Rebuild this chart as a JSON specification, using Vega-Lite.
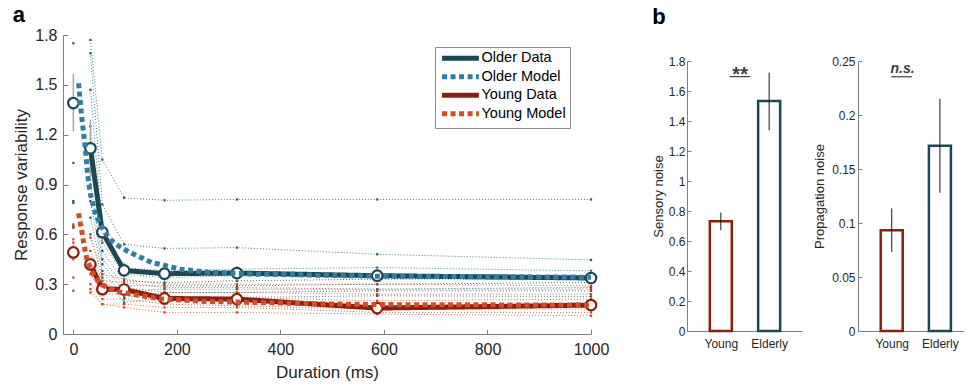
{
  "$schema": "https://vega.github.io/schema/vega-lite/v6.json",
  "padding": {"left": 12, "top": 4, "right": 0, "bottom": 0},
  "background": "white",
  "spacing": 43,
  "config": {
    "font": "Liberation Sans",
    "view": {"stroke": null},
    "axis": {"grid": false, "domainColor": "#808080", "tickColor": "#808080", "labelColor": "#262626", "titleColor": "#262626", "titleFontWeight": "normal", "labelFlush": false, "labelOverlap": false},
    "legend": {"title": null, "orient": "none", "legendX": 372, "legendY": 12, "symbolType": "M-1,0H7.8", "symbolStrokeWidth": 5, "symbolSize": 70, "labelFontSize": 14.5, "labelColor": "black", "strokeColor": "#8c8c8c", "fillColor": "white", "padding": 4, "rowPadding": -2.5, "labelOffset": 28}
  },
  "datasets": {
    "indiv": [
      {"grp":"Older","subj":"O1","dur":0,"v":1.75},{"grp":"Older","subj":"O1","dur":33,"v":1.77},{"grp":"Older","subj":"O1","dur":56,"v":1.05},{"grp":"Older","subj":"O1","dur":98,"v":0.82},{"grp":"Older","subj":"O1","dur":176,"v":0.805},{"grp":"Older","subj":"O1","dur":316,"v":0.81},{"grp":"Older","subj":"O1","dur":587,"v":0.81},{"grp":"Older","subj":"O1","dur":1000,"v":0.81},
      {"grp":"Older","subj":"O2","dur":0,"v":1.03},{"grp":"Older","subj":"O2","dur":33,"v":1.69},{"grp":"Older","subj":"O2","dur":56,"v":0.78},{"grp":"Older","subj":"O2","dur":98,"v":0.54},{"grp":"Older","subj":"O2","dur":176,"v":0.515},{"grp":"Older","subj":"O2","dur":316,"v":0.52},{"grp":"Older","subj":"O2","dur":587,"v":0.48},{"grp":"Older","subj":"O2","dur":1000,"v":0.446},
      {"grp":"Older","subj":"O3","dur":0,"v":0.79},{"grp":"Older","subj":"O3","dur":33,"v":1.47},{"grp":"Older","subj":"O3","dur":56,"v":0.62},{"grp":"Older","subj":"O3","dur":98,"v":0.40},{"grp":"Older","subj":"O3","dur":176,"v":0.38},{"grp":"Older","subj":"O3","dur":316,"v":0.39},{"grp":"Older","subj":"O3","dur":587,"v":0.40},{"grp":"Older","subj":"O3","dur":1000,"v":0.38},
      {"grp":"Older","subj":"O4","dur":0,"v":0.80},{"grp":"Older","subj":"O4","dur":33,"v":1.25},{"grp":"Older","subj":"O4","dur":56,"v":0.55},{"grp":"Older","subj":"O4","dur":98,"v":0.36},{"grp":"Older","subj":"O4","dur":176,"v":0.34},{"grp":"Older","subj":"O4","dur":316,"v":0.35},{"grp":"Older","subj":"O4","dur":587,"v":0.36},{"grp":"Older","subj":"O4","dur":1000,"v":0.35},
      {"grp":"Older","subj":"O5","dur":0,"v":0.65},{"grp":"Older","subj":"O5","dur":33,"v":1.05},{"grp":"Older","subj":"O5","dur":56,"v":0.50},{"grp":"Older","subj":"O5","dur":98,"v":0.32},{"grp":"Older","subj":"O5","dur":176,"v":0.31},{"grp":"Older","subj":"O5","dur":316,"v":0.32},{"grp":"Older","subj":"O5","dur":587,"v":0.33},{"grp":"Older","subj":"O5","dur":1000,"v":0.33},
      {"grp":"Older","subj":"O6","dur":0,"v":0.64},{"grp":"Older","subj":"O6","dur":33,"v":0.90},{"grp":"Older","subj":"O6","dur":56,"v":0.45},{"grp":"Older","subj":"O6","dur":98,"v":0.29},{"grp":"Older","subj":"O6","dur":176,"v":0.29},{"grp":"Older","subj":"O6","dur":316,"v":0.29},{"grp":"Older","subj":"O6","dur":587,"v":0.30},{"grp":"Older","subj":"O6","dur":1000,"v":0.31},
      {"grp":"Older","subj":"O7","dur":33,"v":0.80},{"grp":"Older","subj":"O7","dur":56,"v":0.42},{"grp":"Older","subj":"O7","dur":98,"v":0.26},{"grp":"Older","subj":"O7","dur":176,"v":0.27},{"grp":"Older","subj":"O7","dur":316,"v":0.27},{"grp":"Older","subj":"O7","dur":587,"v":0.27},{"grp":"Older","subj":"O7","dur":1000,"v":0.28},
      {"grp":"Older","subj":"O8","dur":33,"v":0.70},{"grp":"Older","subj":"O8","dur":56,"v":0.38},{"grp":"Older","subj":"O8","dur":98,"v":0.22},{"grp":"Older","subj":"O8","dur":176,"v":0.25},{"grp":"Older","subj":"O8","dur":316,"v":0.25},{"grp":"Older","subj":"O8","dur":587,"v":0.26},{"grp":"Older","subj":"O8","dur":1000,"v":0.26},
      {"grp":"Older","subj":"O9","dur":33,"v":0.60},{"grp":"Older","subj":"O9","dur":56,"v":0.34},{"grp":"Older","subj":"O9","dur":98,"v":0.19},{"grp":"Older","subj":"O9","dur":176,"v":0.22},{"grp":"Older","subj":"O9","dur":316,"v":0.22},{"grp":"Older","subj":"O9","dur":587,"v":0.23},{"grp":"Older","subj":"O9","dur":1000,"v":0.226},
      {"grp":"Young","subj":"Y1","dur":0,"v":0.66},{"grp":"Young","subj":"Y1","dur":33,"v":0.58},{"grp":"Young","subj":"Y1","dur":56,"v":0.36},{"grp":"Young","subj":"Y1","dur":98,"v":0.33},{"grp":"Young","subj":"Y1","dur":176,"v":0.30},{"grp":"Young","subj":"Y1","dur":316,"v":0.30},{"grp":"Young","subj":"Y1","dur":587,"v":0.30},{"grp":"Young","subj":"Y1","dur":1000,"v":0.29},
      {"grp":"Young","subj":"Y2","dur":0,"v":0.645},{"grp":"Young","subj":"Y2","dur":33,"v":0.50},{"grp":"Young","subj":"Y2","dur":56,"v":0.32},{"grp":"Young","subj":"Y2","dur":98,"v":0.31},{"grp":"Young","subj":"Y2","dur":176,"v":0.28},{"grp":"Young","subj":"Y2","dur":316,"v":0.28},{"grp":"Young","subj":"Y2","dur":587,"v":0.27},{"grp":"Young","subj":"Y2","dur":1000,"v":0.27},
      {"grp":"Young","subj":"Y3","dur":0,"v":0.57},{"grp":"Young","subj":"Y3","dur":33,"v":0.45},{"grp":"Young","subj":"Y3","dur":56,"v":0.29},{"grp":"Young","subj":"Y3","dur":98,"v":0.28},{"grp":"Young","subj":"Y3","dur":176,"v":0.25},{"grp":"Young","subj":"Y3","dur":316,"v":0.25},{"grp":"Young","subj":"Y3","dur":587,"v":0.24},{"grp":"Young","subj":"Y3","dur":1000,"v":0.24},
      {"grp":"Young","subj":"Y4","dur":0,"v":0.55},{"grp":"Young","subj":"Y4","dur":33,"v":0.40},{"grp":"Young","subj":"Y4","dur":56,"v":0.26},{"grp":"Young","subj":"Y4","dur":98,"v":0.26},{"grp":"Young","subj":"Y4","dur":176,"v":0.23},{"grp":"Young","subj":"Y4","dur":316,"v":0.22},{"grp":"Young","subj":"Y4","dur":587,"v":0.20},{"grp":"Young","subj":"Y4","dur":1000,"v":0.21},
      {"grp":"Young","subj":"Y5","dur":0,"v":0.34},{"grp":"Young","subj":"Y5","dur":33,"v":0.36},{"grp":"Young","subj":"Y5","dur":56,"v":0.24},{"grp":"Young","subj":"Y5","dur":98,"v":0.24},{"grp":"Young","subj":"Y5","dur":176,"v":0.20},{"grp":"Young","subj":"Y5","dur":316,"v":0.20},{"grp":"Young","subj":"Y5","dur":587,"v":0.17},{"grp":"Young","subj":"Y5","dur":1000,"v":0.18},
      {"grp":"Young","subj":"Y6","dur":0,"v":0.26},{"grp":"Young","subj":"Y6","dur":33,"v":0.30},{"grp":"Young","subj":"Y6","dur":56,"v":0.21},{"grp":"Young","subj":"Y6","dur":98,"v":0.21},{"grp":"Young","subj":"Y6","dur":176,"v":0.18},{"grp":"Young","subj":"Y6","dur":316,"v":0.17},{"grp":"Young","subj":"Y6","dur":587,"v":0.15},{"grp":"Young","subj":"Y6","dur":1000,"v":0.15},
      {"grp":"Young","subj":"Y7","dur":0,"v":0.45},{"grp":"Young","subj":"Y7","dur":33,"v":0.27},{"grp":"Young","subj":"Y7","dur":56,"v":0.18},{"grp":"Young","subj":"Y7","dur":98,"v":0.18},{"grp":"Young","subj":"Y7","dur":176,"v":0.16},{"grp":"Young","subj":"Y7","dur":316,"v":0.16},{"grp":"Young","subj":"Y7","dur":587,"v":0.13},{"grp":"Young","subj":"Y7","dur":1000,"v":0.13},
      {"grp":"Young","subj":"Y8","dur":0,"v":0.50},{"grp":"Young","subj":"Y8","dur":33,"v":0.25},{"grp":"Young","subj":"Y8","dur":56,"v":0.18},{"grp":"Young","subj":"Y8","dur":98,"v":0.16},{"grp":"Young","subj":"Y8","dur":176,"v":0.13},{"grp":"Young","subj":"Y8","dur":316,"v":0.13},{"grp":"Young","subj":"Y8","dur":587,"v":0.12},{"grp":"Young","subj":"Y8","dur":1000,"v":0.11}
    ],
    "mean": [
      {"grp":"Older","series":"Older Data","dur":0,"v":1.39,"lo":1.22,"hi":1.565},
      {"grp":"Older","series":"Older Data","dur":33,"v":1.118,"lo":0.95,"hi":1.29},
      {"grp":"Older","series":"Older Data","dur":56,"v":0.613,"lo":0.55,"hi":0.68},
      {"grp":"Older","series":"Older Data","dur":98,"v":0.383,"lo":0.34,"hi":0.43},
      {"grp":"Older","series":"Older Data","dur":176,"v":0.363,"lo":0.32,"hi":0.41},
      {"grp":"Older","series":"Older Data","dur":316,"v":0.367,"lo":0.32,"hi":0.41},
      {"grp":"Older","series":"Older Data","dur":587,"v":0.351,"lo":0.31,"hi":0.40},
      {"grp":"Older","series":"Older Data","dur":1000,"v":0.337,"lo":0.30,"hi":0.38},
      {"grp":"Young","series":"Young Data","dur":0,"v":0.491,"lo":0.45,"hi":0.54},
      {"grp":"Young","series":"Young Data","dur":33,"v":0.419,"lo":0.39,"hi":0.45},
      {"grp":"Young","series":"Young Data","dur":56,"v":0.27,"lo":0.24,"hi":0.30},
      {"grp":"Young","series":"Young Data","dur":98,"v":0.268,"lo":0.24,"hi":0.30},
      {"grp":"Young","series":"Young Data","dur":176,"v":0.214,"lo":0.19,"hi":0.24},
      {"grp":"Young","series":"Young Data","dur":316,"v":0.21,"lo":0.18,"hi":0.24},
      {"grp":"Young","series":"Young Data","dur":587,"v":0.156,"lo":0.13,"hi":0.18},
      {"grp":"Young","series":"Young Data","dur":1000,"v":0.174,"lo":0.15,"hi":0.20}
    ],
    "model": [
      {"series":"Older Model","dur":10,"v":1.51},{"series":"Older Model","dur":15,"v":1.34},{"series":"Older Model","dur":19,"v":1.23},{"series":"Older Model","dur":23,"v":1.12},{"series":"Older Model","dur":28,"v":0.95},{"series":"Older Model","dur":33,"v":0.84},{"series":"Older Model","dur":38,"v":0.78},{"series":"Older Model","dur":43,"v":0.72},{"series":"Older Model","dur":52,"v":0.66},{"series":"Older Model","dur":61,"v":0.61},{"series":"Older Model","dur":72,"v":0.567},{"series":"Older Model","dur":84,"v":0.537},{"series":"Older Model","dur":100,"v":0.507},{"series":"Older Model","dur":119,"v":0.477},{"series":"Older Model","dur":133,"v":0.457},{"series":"Older Model","dur":151,"v":0.43},{"series":"Older Model","dur":171,"v":0.417},{"series":"Older Model","dur":206,"v":0.39},{"series":"Older Model","dur":258,"v":0.373},{"series":"Older Model","dur":341,"v":0.361},{"series":"Older Model","dur":587,"v":0.348},{"series":"Older Model","dur":1000,"v":0.342},
      {"series":"Young Model","dur":10,"v":0.727},{"series":"Young Model","dur":13.5,"v":0.667},{"series":"Young Model","dur":17,"v":0.607},{"series":"Young Model","dur":20,"v":0.547},{"series":"Young Model","dur":23,"v":0.497},{"series":"Young Model","dur":26.5,"v":0.447},{"series":"Young Model","dur":33,"v":0.397},{"series":"Young Model","dur":39,"v":0.357},{"series":"Young Model","dur":46,"v":0.327},{"series":"Young Model","dur":55,"v":0.296},{"series":"Young Model","dur":68,"v":0.277},{"series":"Young Model","dur":84,"v":0.256},{"series":"Young Model","dur":104,"v":0.245},{"series":"Young Model","dur":126,"v":0.233},{"series":"Young Model","dur":173,"v":0.21},{"series":"Young Model","dur":258,"v":0.196},{"series":"Young Model","dur":341,"v":0.19},{"series":"Young Model","dur":470,"v":0.182},{"series":"Young Model","dur":600,"v":0.177},{"series":"Young Model","dur":1000,"v":0.174}
    ],
    "sensory": [
      {"grp":"Young","pos":1,"v":0.732,"lo":0.672,"hi":0.79},
      {"grp":"Elderly","pos":2,"v":1.533,"lo":1.338,"hi":1.722}
    ],
    "propagation": [
      {"grp":"Young","pos":1,"v":0.0933,"lo":0.0733,"hi":0.1135},
      {"grp":"Elderly","pos":2,"v":0.1715,"lo":0.128,"hi":0.215}
    ],
    "sig1": [{"x":1.186,"x2":1.613,"y":1.696,"ty":1.667,"tx":1.40,"t":"**"}],
    "sig2": [{"x":0.991,"x2":1.42,"y":0.2354,"ty":0.2392,"tx":1.225,"t":"n.s."}],
    "blank": [{"k":1}]
  },
  "hconcat": [
    {
      "title": {"text": "a", "anchor": "start", "fontSize": 22, "fontWeight": "bold", "color": "black", "offset": 0},
      "width": 528,
      "height": 299,
      "encoding": {
        "x": {"field": "dur", "type": "quantitative", "scale": {"domain": [-20, 1000], "nice": false, "zero": false},
          "axis": {"title": "Duration (ms)", "values": [0, 200, 400, 600, 800, 1000], "format": "d", "labelFontSize": 16, "titleFontSize": 17, "tickSize": -5, "labelPadding": 12.5, "titlePadding": 7}},
        "y": {"field": "v", "type": "quantitative", "scale": {"domain": [0, 1.8], "nice": false},
          "axis": {"title": "Response variability", "values": [0, 0.3, 0.6, 0.9, 1.2, 1.5, 1.8], "format": ".1~f", "labelFontSize": 16, "titleFontSize": 17, "tickSize": -5, "labelPadding": 11, "titlePadding": 4}}
      },
      "layer": [
        {"data": {"name": "indiv"}, "transform": [{"filter": "datum.grp == 'Older' && datum.dur > 0"}],
          "mark": {"type": "line", "strokeWidth": 1, "strokeDash": [1, 2], "color": "#3d7f8e"},
          "encoding": {"detail": {"field": "subj"}}},
        {"data": {"name": "indiv"}, "transform": [{"filter": "datum.grp == 'Young' && datum.dur > 0"}],
          "mark": {"type": "line", "strokeWidth": 1, "strokeDash": [1, 2], "color": "#e27350"},
          "encoding": {"detail": {"field": "subj"}}},
        {"data": {"name": "indiv"}, "transform": [{"filter": "datum.grp == 'Older'"}],
          "mark": {"type": "point", "shape": "square", "size": 5, "filled": true, "color": "#1f5a68", "opacity": 1}},
        {"data": {"name": "indiv"}, "transform": [{"filter": "datum.grp == 'Young'"}],
          "mark": {"type": "point", "shape": "square", "size": 5, "filled": true, "color": "#c94222", "opacity": 1}},
        {"data": {"name": "mean"},
          "mark": {"type": "rule", "color": "#a6a6a6", "strokeWidth": 1.5},
          "encoding": {"y": {"field": "lo", "type": "quantitative"}, "y2": {"field": "hi"}}},
        {"data": {"name": "mean"}, "transform": [{"filter": "datum.dur > 0"}],
          "mark": {"type": "line", "strokeWidth": 5},
          "encoding": {
            "color": {"field": "series", "type": "nominal", "title": null, "scale": {"domain": ["Older Data", "Older Model", "Young Data", "Young Model"], "range": ["#1d4753", "#2e7fa3", "#8c1f10", "#d64c24"]}},
            "strokeDash": {"field": "series", "type": "nominal", "title": null, "scale": {"domain": ["Older Data", "Older Model", "Young Data", "Young Model"], "range": [[1, 0], [5, 3.5], [1, 0], [5, 3.5]]}}
          }},
        {"data": {"name": "mean"},
          "mark": {"type": "point", "shape": "circle", "size": 110, "strokeWidth": 2.2, "filled": true, "fill": "white", "opacity": 1},
          "encoding": {"stroke": {"field": "grp", "type": "nominal", "scale": {"domain": ["Older", "Young"], "range": ["#1d4753", "#8c1f10"]}, "legend": null}}},
        {"data": {"name": "model"},
          "mark": {"type": "line", "strokeWidth": 5, "strokeCap": "butt"},
          "encoding": {
            "color": {"field": "series", "type": "nominal", "title": null, "scale": {"domain": ["Older Data", "Older Model", "Young Data", "Young Model"], "range": ["#1d4753", "#2e7fa3", "#8c1f10", "#d64c24"]}},
            "strokeDash": {"field": "series", "type": "nominal", "title": null, "scale": {"domain": ["Older Data", "Older Model", "Young Data", "Young Model"], "range": [[1, 0], [5, 3.5], [1, 0], [5, 3.5]]}}
          }}
      ]
    },
    {
      "title": {"text": "b", "anchor": "start", "fontSize": 22, "fontWeight": "bold", "color": "black", "offset": 6, "dx": 0},
      "spacing": 0,
      "vconcat": [
        {"width": 10, "height": 20, "data": {"name": "blank"}, "mark": {"type": "point", "opacity": 0}},
        {
          "spacing": 11,
          "hconcat": [
            {
              "width": 115,
              "height": 270,
              "encoding": {
                "x": {"field": "pos", "type": "quantitative", "scale": {"domain": [0.3, 2.68], "nice": false, "zero": false, "padding": 0},
                  "axis": {"title": null, "values": [1, 2], "labelExpr": "datum.value == 1 ? 'Young' : 'Elderly'", "labelFontSize": 12, "tickSize": -4, "labelPadding": 11}},
                "y": {"field": "v", "type": "quantitative", "scale": {"domain": [0, 1.8], "nice": false},
                  "axis": {"title": "Sensory noise", "values": [0, 0.2, 0.4, 0.6, 0.8, 1, 1.2, 1.4, 1.6, 1.8], "format": ".1~f", "labelFontSize": 12, "titleFontSize": 13, "tickSize": -4, "labelPadding": 6, "titlePadding": 3}}
              },
              "layer": [
                {"data": {"name": "sensory"},
                  "mark": {"type": "bar", "width": 22, "fill": "white", "strokeWidth": 2.5},
                  "encoding": {"stroke": {"field": "grp", "type": "nominal", "scale": {"domain": ["Young", "Elderly"], "range": ["#99291a", "#1f4a56"]}, "legend": null}}},
                {"data": {"name": "sensory"},
                  "mark": {"type": "rule", "color": "#1a1a1a", "strokeWidth": 1},
                  "encoding": {"y": {"field": "lo", "type": "quantitative"}, "y2": {"field": "hi"}}},
                {"data": {"name": "sig1"},
                  "mark": {"type": "rule", "color": "#404040", "strokeWidth": 1.2},
                  "encoding": {"x": {"field": "x", "type": "quantitative"}, "x2": {"field": "x2"}, "y": {"field": "y", "type": "quantitative"}}},
                {"data": {"name": "sig1"},
                  "mark": {"type": "text", "fontSize": 20, "fontWeight": "bold", "color": "#404040", "baseline": "alphabetic", "align": "center"},
                  "encoding": {"x": {"field": "tx", "type": "quantitative"}, "y": {"field": "ty", "type": "quantitative"}, "text": {"field": "t"}}}
              ]
            },
            {
              "width": 106,
              "height": 270,
              "encoding": {
                "x": {"field": "pos", "type": "quantitative", "scale": {"domain": [0.3, 2.5], "nice": false, "zero": false, "padding": 0},
                  "axis": {"title": null, "values": [1, 2], "labelExpr": "datum.value == 1 ? 'Young' : 'Elderly'", "labelFontSize": 12, "tickSize": -4, "labelPadding": 11}},
                "y": {"field": "v", "type": "quantitative", "scale": {"domain": [0, 0.25], "nice": false},
                  "axis": {"title": "Propagation noise", "values": [0, 0.05, 0.1, 0.15, 0.2, 0.25], "format": ".2~f", "labelFontSize": 12, "titleFontSize": 13, "tickSize": -4, "labelPadding": 7, "titlePadding": 5}}
              },
              "layer": [
                {"data": {"name": "propagation"},
                  "mark": {"type": "bar", "width": 22, "fill": "white", "strokeWidth": 2.5},
                  "encoding": {"stroke": {"field": "grp", "type": "nominal", "scale": {"domain": ["Young", "Elderly"], "range": ["#99291a", "#1f4a56"]}, "legend": null}}},
                {"data": {"name": "propagation"},
                  "mark": {"type": "rule", "color": "#1a1a1a", "strokeWidth": 1},
                  "encoding": {"y": {"field": "lo", "type": "quantitative"}, "y2": {"field": "hi"}}},
                {"data": {"name": "sig2"},
                  "mark": {"type": "rule", "color": "#404040", "strokeWidth": 1.2},
                  "encoding": {"x": {"field": "x", "type": "quantitative"}, "x2": {"field": "x2"}, "y": {"field": "y", "type": "quantitative"}}},
                {"data": {"name": "sig2"},
                  "mark": {"type": "text", "fontSize": 14, "fontWeight": "bold", "fontStyle": "italic", "color": "#404040", "baseline": "alphabetic", "align": "center"},
                  "encoding": {"x": {"field": "tx", "type": "quantitative"}, "y": {"field": "ty", "type": "quantitative"}, "text": {"field": "t"}}}
              ]
            }
          ]
        }
      ]
    }
  ]
}
